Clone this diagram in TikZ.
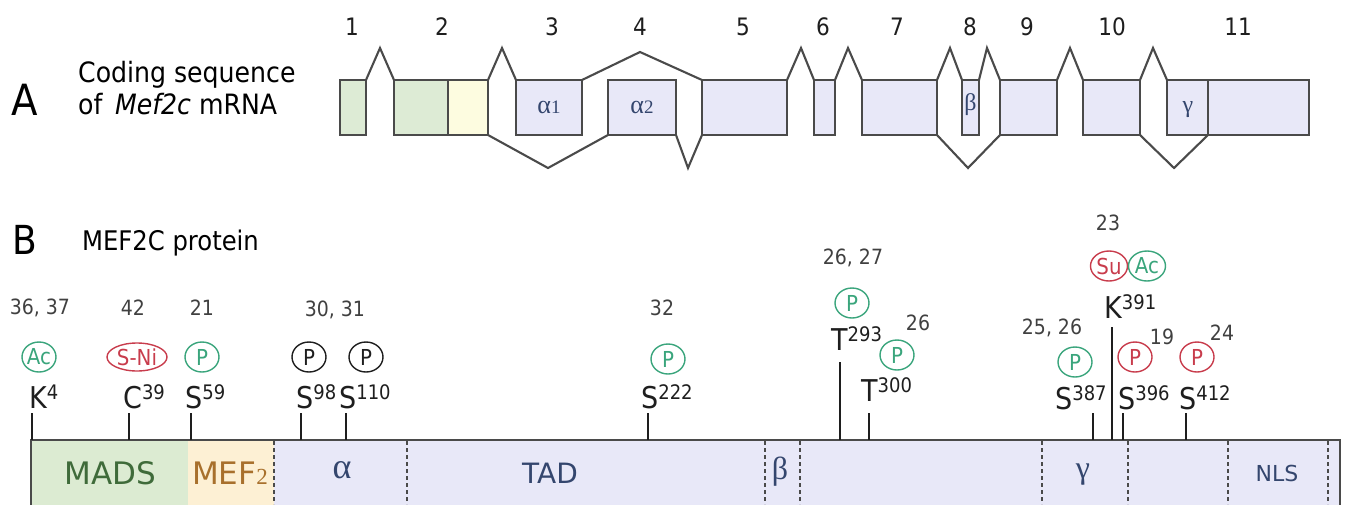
\documentclass[tikz,border=0pt]{standalone}
\usepackage{fontspec}
\setmainfont{DejaVu Sans Condensed}
\newfontfamily\widefont{DejaVu Sans}
\newfontfamily\grfont{Liberation Serif}
\usetikzlibrary{shapes.geometric}
\definecolor{lgreen}{HTML}{DDEBD5}
\definecolor{lyellow}{HTML}{FDFCE0}
\definecolor{lav}{HTML}{E8E8F8}
\definecolor{pgreen}{HTML}{DCEBD2}
\definecolor{porange}{HTML}{FDF0D4}
\definecolor{edgec}{HTML}{4A4A4A}
\definecolor{modgreen}{HTML}{3AA57C}
\definecolor{modred}{HTML}{C83C4C}
\definecolor{navy}{HTML}{34466E}
\definecolor{dgreen}{HTML}{3F6B3A}
\definecolor{brownc}{HTML}{A8702C}
\definecolor{txt}{HTML}{1E1E1E}
\newcommand\fs[1]{\fontsize{#1}{#1}\selectfont}
\newcommand\res[2]{{\fs{30}#1}\raisebox{8.5pt}{\fs{20}#2}}
\tikzset{
  exon/.style={draw=edgec, line width=2.1pt, inner sep=0pt, outer sep=0pt, minimum height=55pt, fill=lav},
  intron/.style={draw=edgec, line width=2.1pt, line join=miter},
  exnum/.style={text=txt, font=\fs{24}, inner sep=0pt},
  dom/.style={inner sep=0pt, outer sep=0pt, minimum height=66pt, draw=none},
  domline/.style={draw=edgec, line width=2.2pt},
  divider/.style={draw=edgec, line width=1.1pt, dash pattern=on 4pt off 3pt},
  tick/.style={draw=txt, line width=1.7pt},
  reslab/.style={anchor=base west, inner sep=0pt, text=txt},
  refnum/.style={text=txt!85, font=\fs{21}, inner sep=0pt},
  mod/.style={ellipse, draw, line width=1.4pt, inner sep=0pt, minimum width=34pt, minimum height=30pt, font=\fs{22}},
  gmod/.style={mod, draw=modgreen, text=modgreen},
  rmod/.style={mod, draw=modred, text=modred},
  kmod/.style={mod, draw=txt, text=txt},
  gr/.style={inner sep=0pt, text=navy},
}
\begin{document}
\begin{tikzpicture}[x=1pt,y=-1pt]
\useasboundingbox (0,0) rectangle (1347,504);
% ---------- Part A ----------
\node[inner sep=0pt, font=\fs{43}, text=black] (labA) at (25,100) {A};
\node[inner sep=0pt, anchor=base west, font=\fs{28}, text=black] (t1) at (78,82) {Coding sequence};
\node[inner sep=0pt, anchor=base west, font=\fs{28}, text=black] (t2) at (78,114) {of \,\textit{Mef2c} mRNA};

\node[exon, fill=lgreen, minimum width=26pt] (e1) at (353,107.5) {};
\node[exon, fill=lgreen, minimum width=54pt] (e2a) at (421,107.5) {};
\node[exon, fill=lyellow, minimum width=40pt] (e2b) at (468,107.5) {};
\node[exon, minimum width=66pt] (e3) at (549,107.5) {};
\node[exon, minimum width=68pt] (e4) at (642,107.5) {};
\node[exon, minimum width=85pt] (e5) at (744.5,107.5) {};
\node[exon, minimum width=21pt] (e6) at (824.5,107.5) {};
\node[exon, minimum width=75pt] (e7) at (899.5,107.5) {};
\node[exon, minimum width=17pt] (e8) at (970.5,107.5) {};
\node[exon, minimum width=57pt] (e9) at (1028.5,107.5) {};
\node[exon, minimum width=57pt] (e10) at (1111.5,107.5) {};
\node[exon, minimum width=41pt] (e11a) at (1187.5,107.5) {};
\node[exon, minimum width=101pt] (e11b) at (1258.5,107.5) {};

\node[gr] (a1) at (549,107) {{\grfont\fs{26}α}{\grfont\fs{19}1}};
\node[gr] (a2) at (642,107) {{\grfont\fs{26}α}{\grfont\fs{19}2}};
\node[gr] (bA) at (970.5,105) {\grfont\fs{24}β};
\node[gr] (gA) at (1188,110) {\grfont\fs{24}γ};

% exon numbers
\foreach \n/\x in {1/352,2/442,3/552,4/640,5/743,6/823,7/897,8/970,9/1027,10/1112,11/1238}
  \node[exnum] (n\n) at (\x,27) {\n};

% introns (upper)
\coordinate (p1) at (380,48);
\coordinate (p2) at (502,48);
\coordinate (p3) at (640,52);
\coordinate (p4) at (801,48);
\coordinate (p5) at (848,48);
\coordinate (p6) at (950,48);
\coordinate (p7) at (987,48);
\coordinate (p8) at (1070,48);
\coordinate (p9) at (1153,48);
\draw[intron] (e1.north east) -- (p1) -- (e2a.north west);
\draw[intron] (e2b.north east) -- (p2) -- (e3.north west);
\draw[intron] (e3.north east) -- (p3) -- (e5.north west);
\draw[intron] (e5.north east) -- (p4) -- (e6.north west);
\draw[intron] (e6.north east) -- (p5) -- (e7.north west);
\draw[intron] (e7.north east) -- (p6) -- (e8.north west);
\draw[intron] (e8.north east) -- (p7) -- (e9.north west);
\draw[intron] (e9.north east) -- (p8) -- (e10.north west);
\draw[intron] (e10.north east) -- (p9) -- (e11a.north west);
% introns (lower)
\coordinate (q1) at (548,168);
\coordinate (q2) at (688,168);
\coordinate (q3) at (968,168);
\coordinate (q4) at (1174,168);
\draw[intron] (e2b.south east) -- (q1) -- (e4.south west);
\draw[intron] (e4.south east) -- (q2) -- (e5.south west);
\draw[intron] (e7.south east) -- (q3) -- (e9.south west);
\draw[intron] (e10.south east) -- (q4) -- (e11a.south east);

% ---------- Part B ----------
\node[inner sep=0pt, font=\fs{40}, text=black] (labB) at (25,240) {B};
\node[inner sep=0pt, anchor=base west, font=\fs{27}, text=black] (t3) at (82,250) {MEF2C protein};

\node[dom, fill=pgreen, minimum width=157pt] (mads) at (109.5,473) {};
\node[dom, fill=porange, minimum width=86pt] (mef) at (231,473) {};
\node[dom, fill=lav, minimum width=1066pt] (rest) at (807,473) {};
\draw[domline] (mads.south west) -- (mads.north west) -- (rest.north east) -- (rest.south east);
\foreach \x in {274,407,765,800,1042,1128,1228,1328}
  \draw[divider] (\x,441) -- (\x,504);

\node[inner sep=0pt, text=dgreen, font=\widefont\fs{31}] (lmads) at (110,473) {MADS};
\node[inner sep=0pt, text=brownc] (lmef) at (230,473) {{\widefont\fs{31}MEF}{\grfont\fs{23}2}};
\node[gr] (lal) at (342,470) {\grfont\fs{36}α};
\node[inner sep=0pt, text=navy, font=\widefont\fs{28}] (ltad) at (550,473) {TAD};
\node[gr] (lbe) at (780,472) {\grfont\fs{32}β};
\node[gr] (lga) at (1083,475) {\grfont\fs{32}γ};
\node[inner sep=0pt, text=navy, font=\widefont\fs{22}] (lnls) at (1277,473) {NLS};

% residues
\node[reslab] (rK4) at (29,408) {\res{K}{4}};
\node[reslab] (rC39) at (123,408) {\res{C}{39}};
\node[reslab] (rS59) at (185,408) {\res{S}{59}};
\node[reslab] (rS98) at (296,408) {\res{S}{98}};
\node[reslab] (rS110) at (339,408) {\res{S}{110}};
\node[reslab] (rS222) at (641,408) {\res{S}{222}};
\node[reslab] (rT293) at (831,350) {\res{T}{293}};
\node[reslab] (rT300) at (861,401) {\res{T}{300}};
\node[reslab] (rS387) at (1055,409) {\res{S}{387}};
\node[reslab] (rK391) at (1104,318) {\res{K}{391}};
\node[reslab] (rS396) at (1118,409) {\res{S}{396}};
\node[reslab] (rS412) at (1179,409) {\res{S}{412}};

% ticks
\foreach \nm/\x/\y in {K4/32/413, C39/129/413, S59/191/413, S98/301/413, S110/346/413, S222/648/413, T293/840/362, T300/869/413, S387/1093/413, K391/1112/327, S396/1123/413, S412/1186/413}{
  \coordinate (c\nm) at (\x,\y);
  \draw[tick] (c\nm) -- (c\nm |- rest.north);
}

% modifications
\node[gmod] (mAc1) at (39,357) {Ac};
\node[rmod, minimum width=60pt, minimum height=28pt] (mSNi) at (137,357) {S-Ni};
\node[gmod] (mP59) at (202,357) {P};
\node[kmod] (mP98) at (309,357) {P};
\node[kmod] (mP110) at (366,357) {P};
\node[gmod] (mP222) at (668,359) {P};
\node[gmod] (mP293) at (852,303) {P};
\node[gmod] (mP300) at (897,355) {P};
\node[gmod] (mP387) at (1075,362) {P};
\node[rmod] (mP396) at (1135,357) {P};
\node[rmod] (mP412) at (1197,357) {P};
\node[rmod, minimum width=37pt] (mSu) at (1109,266) {Su};
\node[gmod, minimum width=37pt] (mAc2) at (1147,266) {Ac};

% reference numbers
\node[refnum] (r1) at (40,308) {36, 37};
\node[refnum] (r2) at (133,308) {42};
\node[refnum] (r3) at (202,308) {21};
\node[refnum] (r4) at (335,310) {30, 31};
\node[refnum] (r5) at (662,308) {32};
\node[refnum] (r6) at (853,258) {26, 27};
\node[refnum] (r7) at (918,323) {26};
\node[refnum] (r8) at (1052,328) {25, 26};
\node[refnum] (r9) at (1108,223) {23};
\node[refnum] (r10) at (1162,337) {19};
\node[refnum] (r11) at (1222,333) {24};
\end{tikzpicture}
\end{document}
